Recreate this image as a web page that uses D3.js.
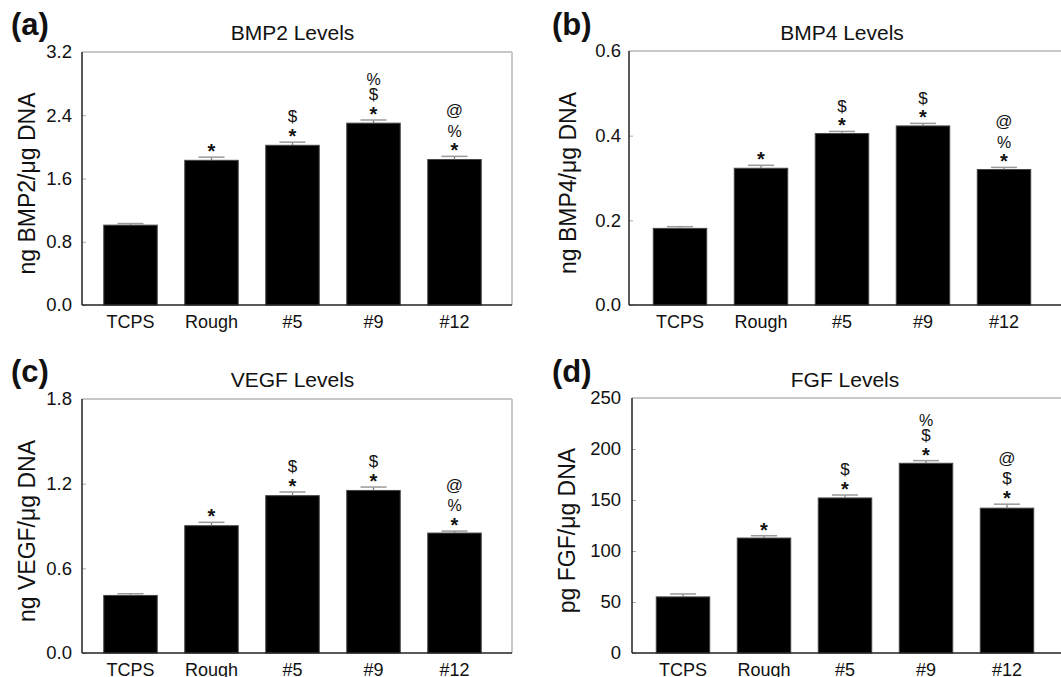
<!DOCTYPE html>
<html>
<head>
<meta charset="utf-8">
<script src="https://cdnjs.cloudflare.com/ajax/libs/d3/7.8.5/d3.min.js"></script>
<style>
  body { margin: 0; background: #fff; }
  svg text { font-family: "Liberation Sans", Arial, sans-serif; fill: #111; }
</style>
</head>
<body>
<div id="chart"></div>
<script>
var svgWidth = 1061;
var svgHeight = 677;

// groups on the x axis (same for every panel)
var groups = ["TCPS", "Rough", "#5", "#9", "#12"];

// (a) BMP2
var bmp2Values = [1.01, 1.83, 2.02, 2.30, 1.84];
var bmp2Errors = [0.02, 0.04, 0.04, 0.04, 0.04];
var bmp2Marks = [[], ["*"], ["*", "$"], ["*", "$", "%"], ["*", "%", "@"]];
var bmp2Ticks = [0, 0.8, 1.6, 2.4, 3.2];

// (b) BMP4
var bmp4Values = [0.181, 0.323, 0.405, 0.423, 0.320];
var bmp4Errors = [0.004, 0.007, 0.005, 0.006, 0.005];
var bmp4Marks = [[], ["*"], ["*", "$"], ["*", "$"], ["*", "%", "@"]];
var bmp4Ticks = [0, 0.2, 0.4, 0.6];

// (c) VEGF
var vegfValues = [0.408, 0.902, 1.115, 1.152, 0.850];
var vegfErrors = [0.012, 0.024, 0.026, 0.024, 0.014];
var vegfMarks = [[], ["*"], ["*", "$"], ["*", "$"], ["*", "%", "@"]];
var vegfTicks = [0, 0.6, 1.2, 1.8];

// (d) FGF
var fgfValues = [55, 112.7, 152, 186, 142];
var fgfErrors = [2.9, 2.3, 2.9, 2.6, 3.9];
var fgfMarks = [[], ["*"], ["*", "$"], ["*", "$", "%"], ["*", "$", "@"]];
var fgfTicks = [0, 50, 100, 150, 200, 250];

var panels = [
  { tag: "(a)", title: "BMP2 Levels", ylabel: "ng BMP2/\u03BCg DNA",
    values: bmp2Values, errors: bmp2Errors, marks: bmp2Marks, ticks: bmp2Ticks, fmt: ".1f",
    left: 82, right: 512, top: 52, bottom: 305, bandLeft: 90,
    tagX: 11, tagY: 35, titleY: 40, ylabelX: 27, tickPad: 10 },
  { tag: "(b)", title: "BMP4 Levels", ylabel: "ng BMP4/\u03BCg DNA",
    values: bmp4Values, errors: bmp4Errors, marks: bmp4Marks, ticks: bmp4Ticks, fmt: ".1f",
    left: 629, right: 1066, top: 51, bottom: 305, bandLeft: 639.5,
    tagX: 552, tagY: 35, titleY: 40, ylabelX: 568, tickPad: 8 },
  { tag: "(c)", title: "VEGF Levels", ylabel: "ng VEGF/\u03BCg DNA",
    values: vegfValues, errors: vegfErrors, marks: vegfMarks, ticks: vegfTicks, fmt: ".1f",
    left: 82, right: 512, top: 399, bottom: 653, bandLeft: 90,
    tagX: 11, tagY: 382, titleY: 387, ylabelX: 27, tickPad: 10 },
  { tag: "(d)", title: "FGF Levels", ylabel: "pg FGF/\u03BCg DNA",
    values: fgfValues, errors: fgfErrors, marks: fgfMarks, ticks: fgfTicks, fmt: "d",
    left: 632, right: 1068, top: 398, bottom: 653, bandLeft: 642.5,
    tagX: 552, tagY: 382, titleY: 387, ylabelX: 567, tickPad: 11 }
];

// font sizes and baseline shifts for the significance symbols
var markSize = { "*": 20, "$": 17, "%": 16, "@": 17 };
var markShift = { "*": 11.5, "$": 5.8, "%": 5.8, "@": 4.8 };

var svg = d3
  .select("#chart")
  .append("svg")
  .attr("width", svgWidth)
  .attr("height", svgHeight);

panels.forEach(function (p) {
  var g = svg.append("g");

  var xScale = d3
    .scaleBand()
    .domain(groups)
    .range([p.bandLeft, p.bandLeft + 405])
    .paddingInner(0.34)
    .paddingOuter(0.17);

  var yScale = d3
    .scaleLinear()
    .domain([0, d3.max(p.ticks)])
    .range([p.bottom, p.top]);

  // y axis ticks (inward) and labels
  var leftAxis = d3
    .axisLeft(yScale)
    .tickValues(p.ticks)
    .tickFormat(d3.format(p.fmt))
    .tickSizeInner(-4)
    .tickSizeOuter(0)
    .tickPadding(p.tickPad);

  var yAxis = g
    .append("g")
    .attr("transform", `translate(${p.left},0)`)
    .call(leftAxis);
  yAxis.select(".domain").remove();
  yAxis.selectAll(".tick line").attr("stroke", "#aaa");
  yAxis.selectAll(".tick text").style("font-size", "18.5px").attr("fill", "#111");

  // x axis labels
  var bottomAxis = d3.axisBottom(xScale).tickSize(0).tickPadding(10);
  var xAxis = g
    .append("g")
    .attr("transform", `translate(0,${p.bottom})`)
    .call(bottomAxis);
  xAxis.select(".domain").remove();
  xAxis.selectAll(".tick text").style("font-size", "18px").attr("fill", "#111");

  // bars
  g.selectAll(".bar")
    .data(p.values)
    .enter()
    .append("rect")
    .attr("class", "bar")
    .attr("x", (d, i) => xScale(groups[i]))
    .attr("y", (d) => yScale(d))
    .attr("width", xScale.bandwidth())
    .attr("height", (d) => p.bottom - yScale(d))
    .attr("fill", "#000")
    .attr("stroke", "#444")
    .attr("stroke-width", 1);

  // error bars (upper whisker only, lower part is hidden by the bar)
  p.values.forEach(function (v, i) {
    var cx = xScale(groups[i]) + xScale.bandwidth() / 2;
    var yTop = yScale(v + p.errors[i]);
    g.append("line")
      .attr("x1", cx).attr("x2", cx)
      .attr("y1", yScale(v)).attr("y2", yTop)
      .attr("stroke", "#777").attr("stroke-width", 1.2);
    g.append("line")
      .attr("x1", cx - 13).attr("x2", cx + 13)
      .attr("y1", yTop).attr("y2", yTop)
      .attr("stroke", "#999").attr("stroke-width", 1.5);

    // stacked significance symbols
    var cy = yTop - 10.5;
    p.marks[i].forEach(function (m, k) {
      if (k > 0) cy -= m === "@" ? 19.5 : 15;
      g.append("text")
        .attr("x", cx)
        .attr("y", cy + markShift[m])
        .attr("text-anchor", "middle")
        .style("font-size", markSize[m] + "px")
        .style("font-weight", m === "*" ? "bold" : "normal")
        .text(m);
    });
  });

  // frame: black left/bottom, light gray top/right
  g.append("line")
    .attr("x1", p.left).attr("x2", p.right)
    .attr("y1", p.top).attr("y2", p.top)
    .attr("stroke", "#c8c8c8").attr("stroke-width", 2);
  g.append("line")
    .attr("x1", p.right).attr("x2", p.right)
    .attr("y1", p.top).attr("y2", p.bottom)
    .attr("stroke", "#c8c8c8").attr("stroke-width", 2);
  g.append("line")
    .attr("x1", p.left).attr("x2", p.left)
    .attr("y1", p.top).attr("y2", p.bottom)
    .attr("stroke", "#222").attr("stroke-width", 1.5);
  g.append("line")
    .attr("x1", p.left).attr("x2", p.right)
    .attr("y1", p.bottom).attr("y2", p.bottom)
    .attr("stroke", "#222").attr("stroke-width", 1.5);

  // panel title
  g.append("text")
    .attr("x", p.bandLeft + 202.5)
    .attr("y", p.titleY)
    .attr("text-anchor", "middle")
    .style("font-size", "21px")
    .text(p.title);

  // panel tag (a), (b) ...
  g.append("text")
    .attr("x", p.tagX)
    .attr("y", p.tagY)
    .style("font-size", "31px")
    .style("font-weight", "bold")
    .text(p.tag);

  // y axis label
  g.append("text")
    .attr("transform", `translate(${p.ylabelX},${(p.top + p.bottom) / 2 + 5}) rotate(-90)`)
    .attr("text-anchor", "middle")
    .attr("dominant-baseline", "central")
    .style("font-size", "23px")
    .text(p.ylabel);
});
</script>
</body>
</html>
